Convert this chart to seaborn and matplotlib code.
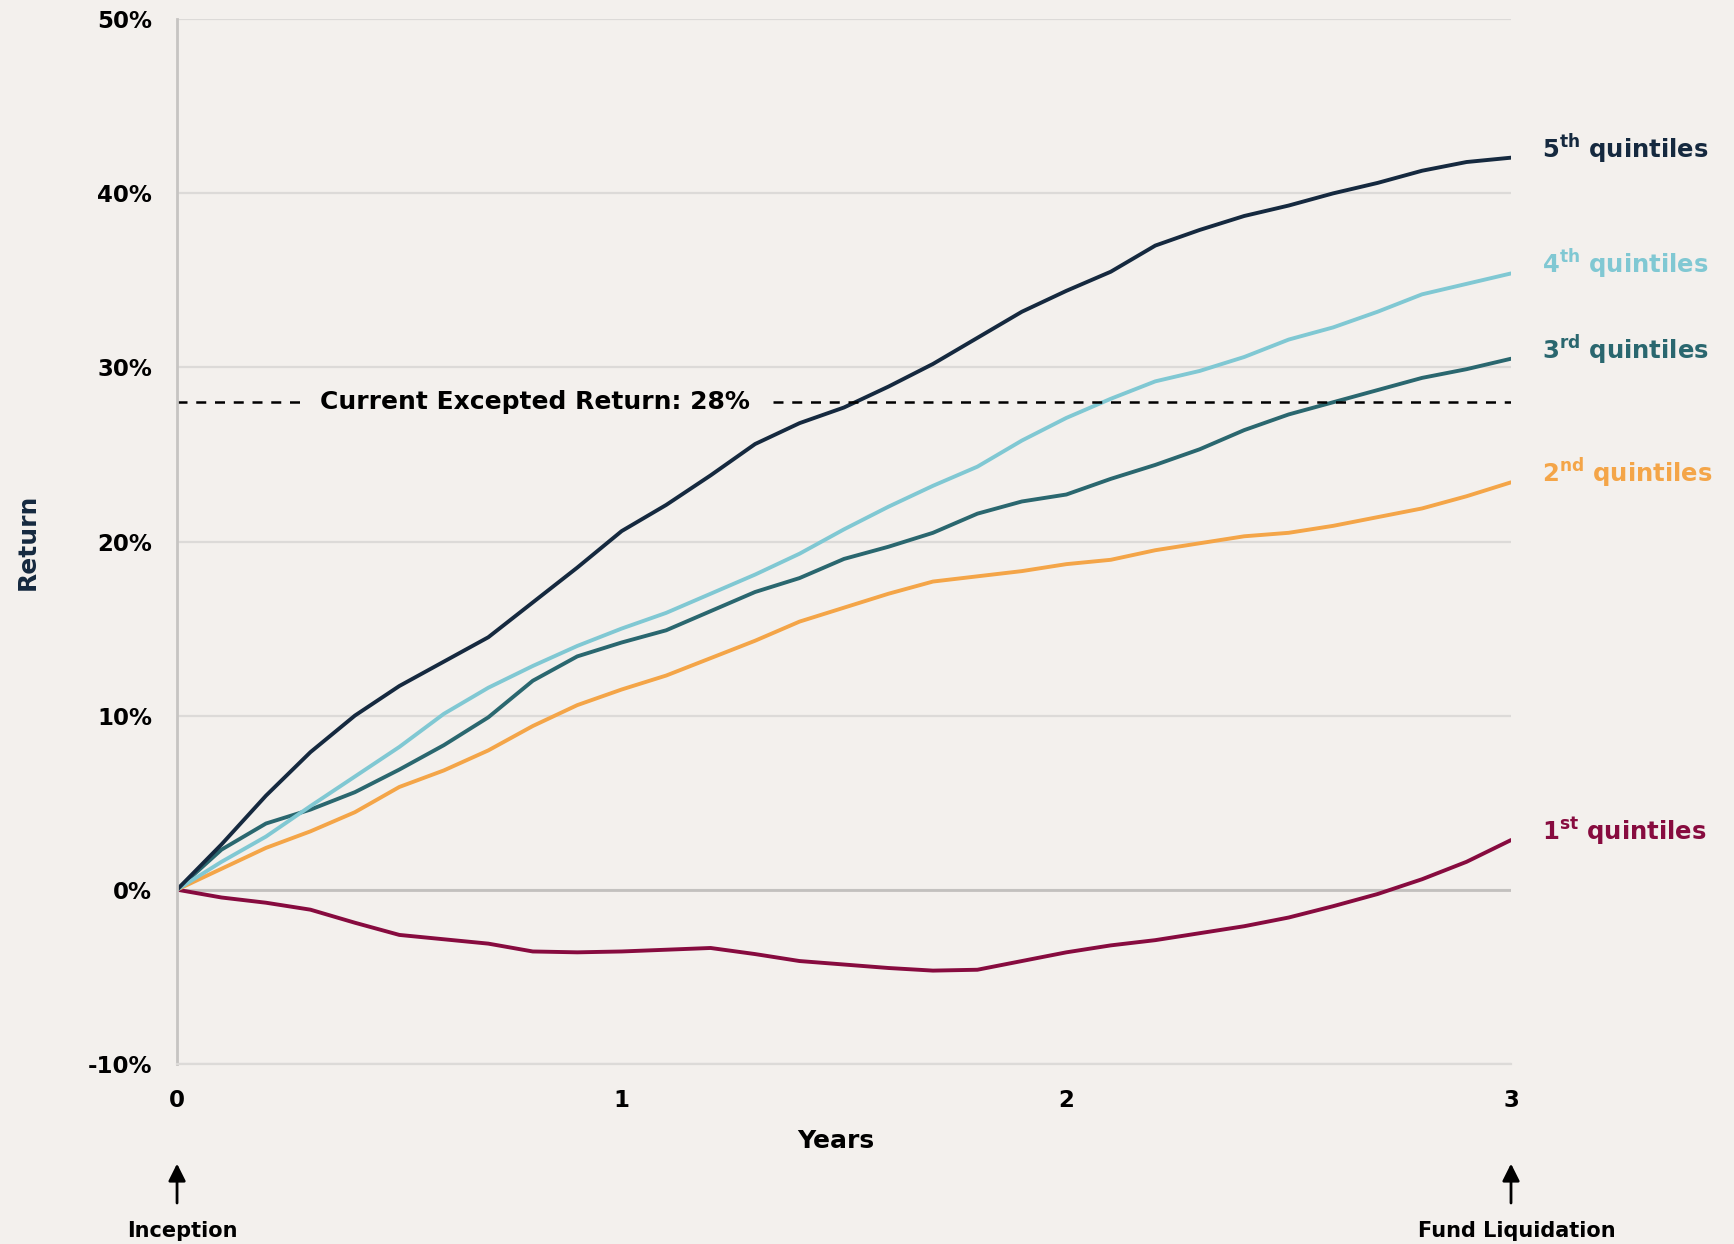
import numpy as np
import pandas as pd
import matplotlib
matplotlib.use('Agg')
import matplotlib.pyplot as plt
import seaborn as sns

# values, % return by year
years = [0.0, 0.1, 0.2, 0.3, 0.4, 0.5, 0.6, 0.7, 0.8, 0.9, 1.0,
         1.1, 1.2, 1.3, 1.4, 1.5, 1.6, 1.7, 1.8, 1.9, 2.0,
         2.1, 2.2, 2.3, 2.4, 2.5, 2.6, 2.7, 2.8, 2.9, 3.0]
q5 = [0.0, 2.6, 5.4, 7.9, 10.0, 11.7, 13.1, 14.5, 16.5, 18.5, 20.6,
      22.1, 23.8, 25.6, 26.8, 27.7, 28.9, 30.2, 31.7, 33.2, 34.4,
      35.5, 37.0, 37.9, 38.7, 39.3, 40.0, 40.6, 41.3, 41.8, 42.05]
q4 = [0.0, 1.6, 3.05, 4.8, 6.5, 8.2, 10.1, 11.6, 12.85, 14.0, 15.0,
      15.9, 17.0, 18.1, 19.3, 20.7, 22.0, 23.2, 24.3, 25.8, 27.1,
      28.2, 29.2, 29.8, 30.6, 31.6, 32.3, 33.2, 34.2, 34.8, 35.4]
q3 = [0.0, 2.3, 3.8, 4.6, 5.6, 6.9, 8.3, 9.9, 12.0, 13.4, 14.2,
      14.9, 16.0, 17.1, 17.9, 19.0, 19.7, 20.5, 21.6, 22.3, 22.7,
      23.6, 24.4, 25.3, 26.4, 27.3, 28.0, 28.7, 29.4, 29.9, 30.5]
q2 = [0.0, 1.2, 2.4, 3.35, 4.45, 5.9, 6.85, 8.0, 9.4, 10.6, 11.5,
      12.3, 13.3, 14.3, 15.4, 16.2, 17.0, 17.7, 18.0, 18.3, 18.7,
      18.95, 19.5, 19.9, 20.3, 20.5, 20.9, 21.4, 21.9, 22.6, 23.4]
q1 = [0.0, -0.45, -0.75, -1.15, -1.9, -2.6, -2.85, -3.1, -3.55, -3.6, -3.55,
      -3.45, -3.35, -3.7, -4.1, -4.3, -4.5, -4.65, -4.6, -4.1, -3.6,
      -3.2, -2.9, -2.5, -2.1, -1.6, -0.95, -0.25, 0.6, 1.6, 2.85]

quintiles = ['1st', '2nd', '3rd', '4th', '5th']
series = [q1, q2, q3, q4, q5]
colors = ['#870b3f', '#f4a548', '#2a676f', '#80c8d3', '#15293f']
expected_return = 28

y_ticks = [-10, 0, 10, 20, 30, 40, 50]
x_ticks = [0, 1, 2, 3]

df = pd.concat([pd.DataFrame({'Years': years, 'Return': s, 'Quintile': q})
                for q, s in zip(quintiles, series)])

bg = '#f3f0ed'
sns.set_style('white')
plt.rcParams['font.family'] = ['DejaVu Sans']
plt.rcParams['mathtext.fontset'] = 'custom'
plt.rcParams['mathtext.rm'] = 'DejaVu Sans:bold'
plt.rcParams['mathtext.bf'] = 'DejaVu Sans:bold'
plt.rcParams['text.color'] = 'black'
plt.rcParams['axes.labelcolor'] = 'black'
plt.rcParams['xtick.color'] = 'black'
plt.rcParams['ytick.color'] = 'black'

fig = plt.figure(figsize=(17.34, 12.44), dpi=100, facecolor=bg)
ax = fig.add_axes([0.1021, 0.1449, 0.7693, 0.8396])
ax.set_facecolor(bg)

sns.lineplot(data=df, x='Years', y='Return', hue='Quintile',
             palette=dict(zip(quintiles, colors)), linewidth=2.8,
             legend=False, ax=ax)

ax.set_xlim(0, 3)
ax.set_ylim(-10, 50)
ax.set_yticks(y_ticks)
ax.set_yticklabels([f'{v}%' for v in y_ticks])
ax.set_xticks(x_ticks)
ax.tick_params(length=0, labelsize=16.5, pad=18)
for lab in ax.get_xticklabels() + ax.get_yticklabels():
    lab.set_fontweight('bold')

ax.yaxis.grid(True, color='#dcdad8', lw=1.6)
ax.set_axisbelow(True)
ax.axhline(0, color='#c2c0be', lw=2, zorder=1)
for side in ['top', 'right']:
    ax.spines[side].set_visible(False)
ax.spines['left'].set_color('#c6c4c2')
ax.spines['left'].set_linewidth(2)
ax.spines['bottom'].set_color('#dcdad8')
ax.spines['bottom'].set_linewidth(1.6)

ax.set_xlabel('Years', fontsize=18, fontweight='bold')
ax.xaxis.set_label_coords(0.494, -0.074)
ax.xaxis.label.set_va('center')
ax.set_ylabel('Return', fontsize=18, fontweight='bold', color='#15293f')
ax.yaxis.set_label_coords(-0.112, 0.5)
ax.yaxis.label.set_va('center')

# expected return line with a gap for the label
ax.hlines(expected_return, 0, 0.28, colors='black', lw=1.8, linestyles=(0, (4, 3.5)))
ax.hlines(expected_return, 1.34, 3, colors='black', lw=1.8, linestyles=(0, (4, 3.5)))
ax.text(0.805, expected_return, 'Current Excepted Return: 28%', fontsize=18,
        fontweight='bold', ha='center', va='center')

# end labels
sups = {'1st': ('1', 'st'), '2nd': ('2', 'nd'), '3rd': ('3', 'rd'),
        '4th': ('4', 'th'), '5th': ('5', 'th')}
for q, s, c in zip(quintiles, series, colors):
    n, sup = sups[q]
    ax.text(3.07, s[-1] + 0.5, rf'{n}$^{{\mathrm{{{sup}}}}}$ quintiles',
            fontsize=17.5, fontweight='bold', color=c, va='center', ha='left',
            clip_on=False)

# inception / liquidation markers
for x, label in [(0, 'Inception'), (3, 'Fund Liquidation')]:
    ax.annotate('', xy=(x, -0.093), xycoords=('data', 'axes fraction'),
                xytext=(x, -0.136), textcoords=('data', 'axes fraction'),
                arrowprops=dict(arrowstyle='-|>', color='black', lw=2,
                                mutation_scale=26),
                annotation_clip=False)
    ax.text(x + 0.012, -0.16, label, transform=ax.get_xaxis_transform(),
            fontsize=15, fontweight='bold', ha='center', va='center')

fig.savefig('out.png', dpi=100, facecolor=bg)
